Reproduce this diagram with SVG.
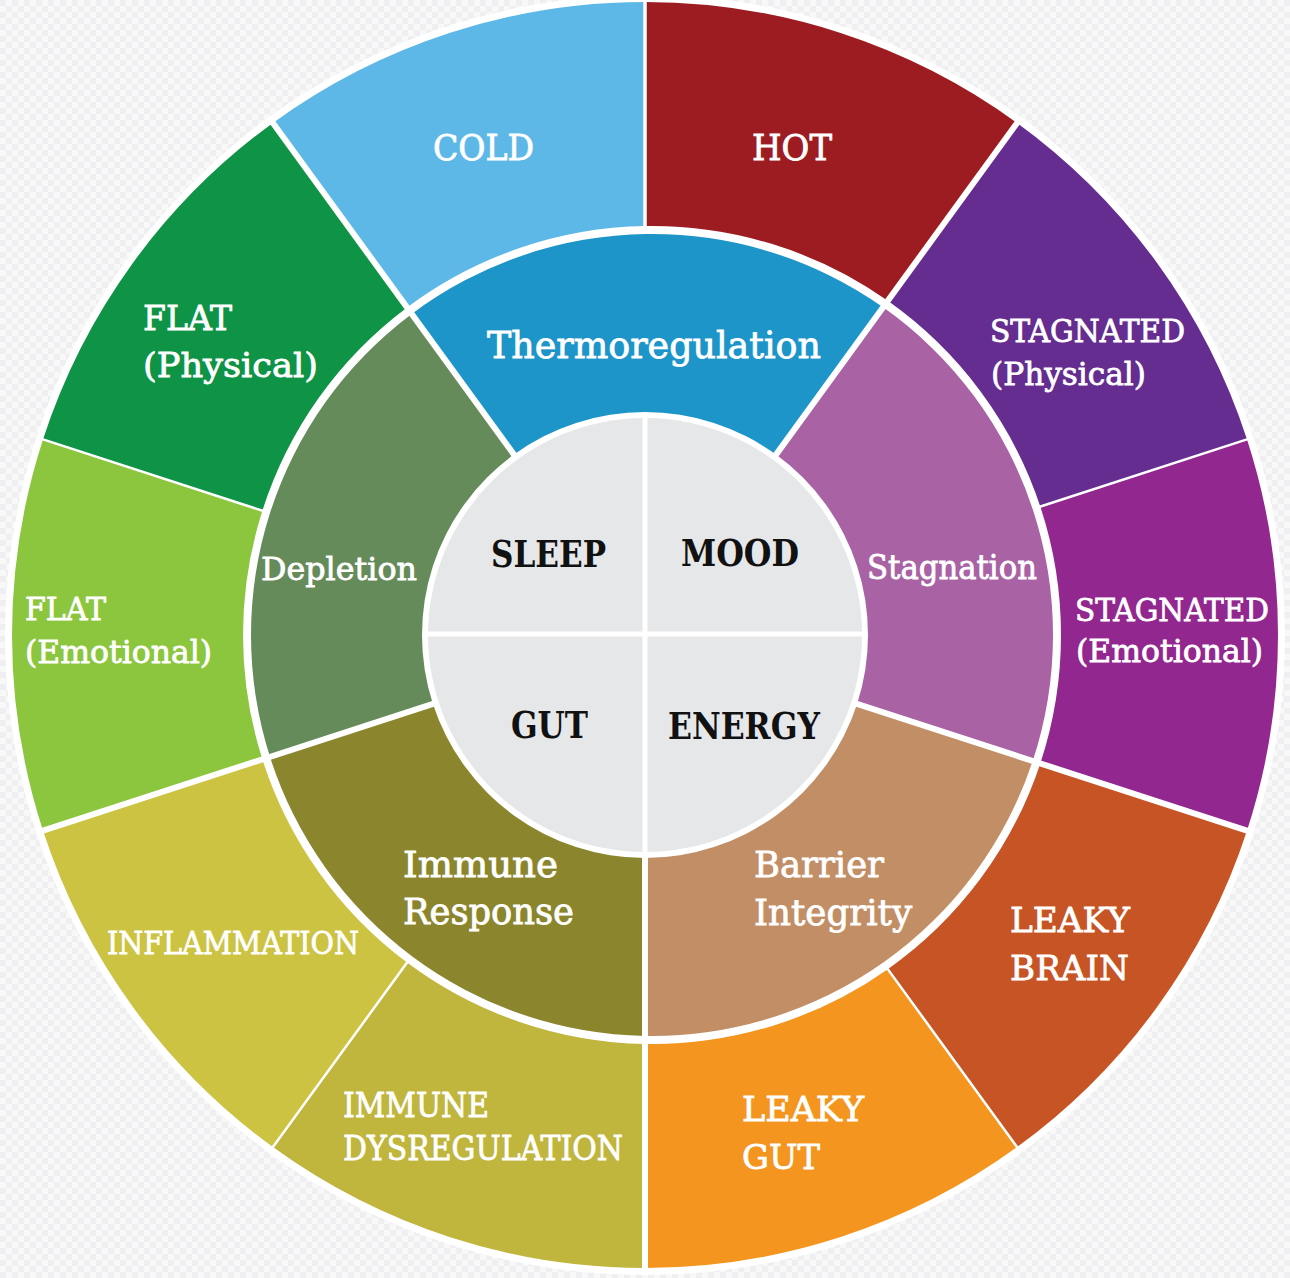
<svg xmlns="http://www.w3.org/2000/svg" width="1290" height="1278" viewBox="0 0 1290 1278">
<defs>
<pattern id="chk" width="12" height="12" patternUnits="userSpaceOnUse">
<rect width="12" height="12" fill="#f8f8f9"/>
<rect width="6" height="6" fill="#efeff1"/>
<rect x="6" y="6" width="6" height="6" fill="#efeff1"/>
</pattern>
<style>
text{font-family:"DejaVu Serif","Liberation Serif",serif;}
.w{fill:#ffffff;stroke:#ffffff;stroke-width:0.8;}
.k{fill:#111111;font-weight:bold;}
.sep{stroke:#ffffff;fill:none;stroke-linecap:butt;}
.thick{stroke-width:6;}
.mid{stroke-width:3.5;}
.thin{stroke-width:2.5;}
.cross{stroke:#ffffff;stroke-width:5;}
</style>
</defs>
<rect width="1290" height="1278" fill="url(#chk)"/>
<circle cx="645" cy="635" r="640" fill="#ffffff"/>

<g id="outer-ring">
<g id="cold"><path d="M272.93,122.89 A633,633 0 0 1 645,2 L645,226.06 A409,409 0 0 0 407.04,307.47 Z" fill="#5db8e8"/>
<text class="w" x="433" y="160" font-size="35" textLength="101" lengthAdjust="spacingAndGlyphs">COLD</text></g>
<g id="hot"><path d="M645,2 A633,633 0 0 1 1017.07,122.89 L887.80,300.82 A409,409 0 0 0 645,226.06 Z" fill="#9d1c21"/>
<text class="w" x="752" y="160" font-size="35" textLength="80" lengthAdjust="spacingAndGlyphs">HOT</text></g>
<g id="stagnated-physical"><path d="M1017.07,122.89 A633,633 0 0 1 1247.02,439.39 L1040.30,506.56 A409,409 0 0 0 887.80,300.82 Z" fill="#652d90"/>
<text class="w" x="990" y="342" font-size="32" textLength="195" lengthAdjust="spacingAndGlyphs">STAGNATED</text>
<text class="w" x="991" y="385" font-size="32" textLength="155" lengthAdjust="spacingAndGlyphs">(Physical)</text></g>
<g id="stagnated-emotional"><path d="M1247.02,439.39 A633,633 0 0 1 1247.02,830.61 L1040.30,763.44 A409,409 0 0 0 1040.30,506.56 Z" fill="#92278f"/>
<text class="w" x="1075" y="621" font-size="32" textLength="194" lengthAdjust="spacingAndGlyphs">STAGNATED</text>
<text class="w" x="1076" y="662" font-size="32" textLength="187" lengthAdjust="spacingAndGlyphs">(Emotional)</text></g>
<g id="leaky-brain"><path d="M1247.02,830.61 A633,633 0 0 1 1017.07,1147.11 L887.80,969.18 A409,409 0 0 0 1040.30,763.44 Z" fill="#c65425"/>
<text class="w" x="1010" y="932" font-size="34" textLength="120" lengthAdjust="spacingAndGlyphs">LEAKY</text>
<text class="w" x="1010" y="980" font-size="34" textLength="119" lengthAdjust="spacingAndGlyphs">BRAIN</text></g>
<g id="leaky-gut"><path d="M1017.07,1147.11 A633,633 0 0 1 645,1268 L645,1043.94 A409,409 0 0 0 887.80,969.18 Z" fill="#f4951f"/>
<text class="w" x="742" y="1121" font-size="34" textLength="122" lengthAdjust="spacingAndGlyphs">LEAKY</text>
<text class="w" x="742" y="1169" font-size="34" textLength="78" lengthAdjust="spacingAndGlyphs">GUT</text></g>
<g id="immune-dysregulation"><path d="M645,1268 A633,633 0 0 1 272.93,1147.11 L407.04,962.53 A409,409 0 0 0 645,1043.94 Z" fill="#c0b53d"/>
<text class="w" x="343" y="1117" font-size="33" textLength="146" lengthAdjust="spacingAndGlyphs">IMMUNE</text>
<text class="w" x="343" y="1160" font-size="33" textLength="280" lengthAdjust="spacingAndGlyphs">DYSREGULATION</text></g>
<g id="inflammation"><path d="M272.93,1147.11 A633,633 0 0 1 42.98,830.61 L262.36,759.33 A409,409 0 0 0 407.04,962.53 Z" fill="#cdc343"/>
<text class="w" x="107" y="954" font-size="31" textLength="252" lengthAdjust="spacingAndGlyphs">INFLAMMATION</text></g>
<g id="flat-emotional"><path d="M42.98,830.61 A633,633 0 0 1 42.98,439.39 L262.36,510.67 A409,409 0 0 0 262.36,759.33 Z" fill="#8cc63f"/>
<text class="w" x="25" y="620" font-size="32" textLength="81" lengthAdjust="spacingAndGlyphs">FLAT</text>
<text class="w" x="25" y="663" font-size="32" textLength="187" lengthAdjust="spacingAndGlyphs">(Emotional)</text></g>
<g id="flat-physical"><path d="M42.98,439.39 A633,633 0 0 1 272.93,122.89 L407.04,307.47 A409,409 0 0 0 262.36,510.67 Z" fill="#0f9346"/>
<text class="w" x="143" y="330" font-size="34" textLength="89" lengthAdjust="spacingAndGlyphs">FLAT</text>
<text class="w" x="143" y="377" font-size="34" textLength="175" lengthAdjust="spacingAndGlyphs">(Physical)</text></g>
</g>

<g id="middle-ring">
<g id="thermoregulation"><path d="M411.74,313.94 A401,401 0 0 1 883.09,307.29 L776.08,454.59 A223,223 0 0 0 513.92,454.59 Z" fill="#1d95c9"/>
<text class="w" x="487" y="358" font-size="38" textLength="334" lengthAdjust="spacingAndGlyphs">Thermoregulation</text></g>
<g id="stagnation"><path d="M883.09,307.29 A401,401 0 0 1 1032.70,760.97 L857.09,703.91 A223,223 0 0 0 776.08,454.59 Z" fill="#a962a4"/>
<text class="w" x="867" y="579" font-size="33" textLength="170" lengthAdjust="spacingAndGlyphs">Stagnation</text></g>
<g id="barrier-integrity"><path d="M1032.70,760.97 A401,401 0 0 1 645,1035.94 L645,858 A223,223 0 0 0 857.09,703.91 Z" fill="#c28e66"/>
<text class="w" x="754" y="877" font-size="35" textLength="130" lengthAdjust="spacingAndGlyphs">Barrier</text>
<text class="w" x="754" y="925" font-size="35" textLength="158" lengthAdjust="spacingAndGlyphs">Integrity</text></g>
<g id="immune-response"><path d="M645,1035.94 A401,401 0 0 1 269.97,756.86 L432.91,703.91 A223,223 0 0 0 645,858 Z" fill="#8b862d"/>
<text class="w" x="403" y="877" font-size="35" textLength="155" lengthAdjust="spacingAndGlyphs">Immune</text>
<text class="w" x="403" y="924" font-size="35" textLength="171" lengthAdjust="spacingAndGlyphs">Response</text></g>
<g id="depletion"><path d="M269.97,756.86 A401,401 0 0 1 411.74,313.94 L513.92,454.59 A223,223 0 0 0 432.91,703.91 Z" fill="#668b5a"/>
<text class="w" x="261" y="580" font-size="32" textLength="156" lengthAdjust="spacingAndGlyphs">Depletion</text></g>
</g>

<g id="core">
<g id="sleep"><path d="M645,635 L428,635 A217,217 0 0 1 645,418 Z" fill="#e6e7e9"/>
<text class="k" x="491" y="567" font-size="37" textLength="115" lengthAdjust="spacingAndGlyphs">SLEEP</text></g>
<g id="mood"><path d="M645,635 L645,418 A217,217 0 0 1 862,635 Z" fill="#e6e7e9"/>
<text class="k" x="681" y="566" font-size="37" textLength="118" lengthAdjust="spacingAndGlyphs">MOOD</text></g>
<g id="energy"><path d="M645,635 L862,635 A217,217 0 0 1 645,852 Z" fill="#e6e7e9"/>
<text class="k" x="668" y="739" font-size="37" textLength="152" lengthAdjust="spacingAndGlyphs">ENERGY</text></g>
<g id="gut"><path d="M645,635 L645,852 A217,217 0 0 1 428,635 Z" fill="#e6e7e9"/>
<text class="k" x="511" y="738" font-size="37" textLength="77" lengthAdjust="spacingAndGlyphs">GUT</text></g>
</g>

<g id="separators">
<line class="sep thick" x1="773.14" y1="458.63" x2="1019.42" y2="119.66"/>
<line class="sep thick" x1="852.33" y1="702.37" x2="1250.82" y2="831.84"/>
<line class="sep thick" x1="645" y1="853" x2="645" y2="1272"/>
<line class="sep thick" x1="437.67" y1="702.37" x2="39.18" y2="831.84"/>
<line class="sep thick" x1="516.86" y1="458.63" x2="270.58" y2="119.66"/>
<line class="sep mid" x1="645" y1="230" x2="645" y2="-2"/>
<line class="sep thin" x1="1035.88" y1="507.99" x2="1250.82" y2="438.16"/>
<line class="sep thin" x1="885.40" y1="965.89" x2="1019.42" y2="1150.34"/>
<line class="sep thin" x1="409.30" y1="959.42" x2="270.58" y2="1150.34"/>
<line class="sep thin" x1="266.48" y1="512.01" x2="39.18" y2="438.16"/>
<line class="cross" x1="645" y1="414" x2="645" y2="856"/>
<line class="cross" x1="424" y1="634" x2="866" y2="634"/>
</g>
</svg>
